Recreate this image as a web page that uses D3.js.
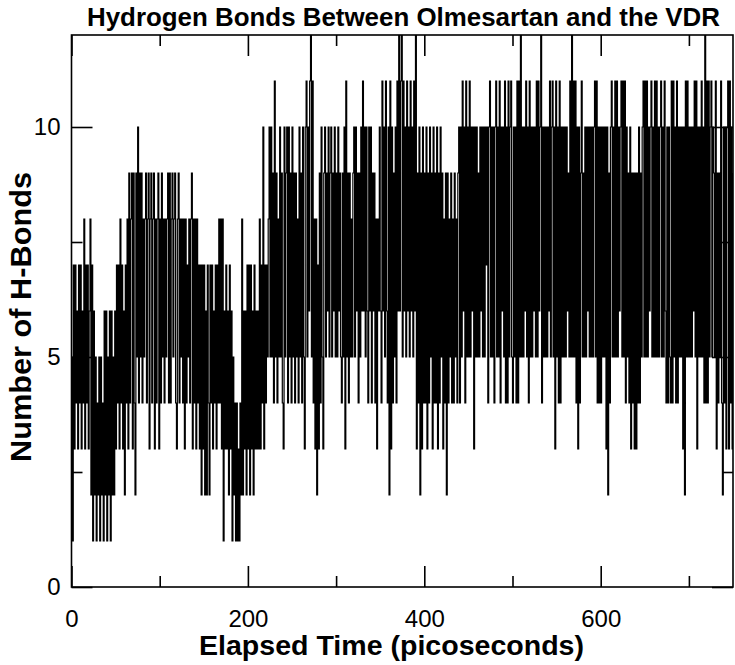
<!DOCTYPE html>
<html><head><meta charset="utf-8">
<script src="https://cdn.jsdelivr.net/npm/d3@7"></script>
<style>body{margin:0;background:#fff}</style>
</head><body>
<svg id="chart" width="735" height="665"></svg>
<script>
// Number of hydrogen bonds, one value per picosecond (t = 0 .. 750 ps)
const hbonds = [
5,1,7,3,7,4,6,3,7,4,7,3,6,4,8,3,7,4,7,3,6,8,2,7,1,
6,2,5,1,4,2,5,1,5,2,4,1,6,2,6,1,5,2,6,1,6,2,5,2,6,
3,7,4,7,3,8,4,7,3,6,2,7,4,8,3,9,4,8,9,3,9,4,2,9,5,
10,4,9,5,9,4,8,5,8,9,4,8,9,3,8,9,4,8,9,3,8,4,8,9,3,
8,4,9,5,8,4,8,5,8,9,4,9,4,8,9,5,8,9,4,3,8,9,4,8,5,
8,4,8,3,8,4,7,5,8,4,8,9,3,8,4,8,3,8,4,7,3,7,2,7,3,
7,2,6,2,7,4,2,7,4,7,3,6,4,7,3,7,4,8,4,8,3,8,1,6,3,
7,3,6,2,7,3,6,1,5,2,4,1,4,1,3,1,4,2,8,2,6,3,6,2,7,
3,7,2,7,3,6,2,7,3,6,3,6,3,8,3,7,4,10,3,7,4,7,5,8,10,
5,10,5,9,4,11,5,9,4,8,5,10,5,9,4,3,10,5,9,10,4,10,5,9,4,
10,5,9,4,9,5,8,4,10,5,9,4,10,5,3,10,11,5,10,6,11,12,5,11,4,
8,3,8,2,7,3,9,4,10,5,3,9,10,5,9,6,10,5,9,10,5,9,6,10,5,
9,5,10,6,9,5,4,9,5,10,3,11,5,9,4,9,5,8,5,9,10,5,10,6,9,
4,9,5,10,6,11,6,10,5,10,6,4,10,6,10,4,9,6,9,4,8,3,8,6,10,
6,4,11,6,10,5,11,6,4,10,2,11,3,10,4,9,5,10,4,11,6,12,6,11,12,
5,11,6,10,5,11,6,10,5,11,6,10,5,11,6,12,3,9,4,10,2,9,3,10,4,
9,4,10,3,9,4,10,5,9,3,10,4,9,4,10,3,9,4,10,5,9,3,8,4,9,
2,9,4,8,5,9,4,8,4,9,5,8,4,9,10,4,10,5,11,6,10,4,11,5,10,
5,11,5,10,6,10,3,10,5,10,5,9,5,10,6,10,5,10,5,10,7,10,4,10,11,
5,10,5,10,4,10,11,5,10,5,11,4,10,6,10,5,11,4,10,4,11,5,10,11,5,
4,10,5,10,4,11,4,11,5,12,5,10,5,10,6,11,5,10,4,11,5,10,5,10,6,
10,5,11,5,11,6,10,12,4,10,5,10,5,10,5,10,6,11,5,10,11,5,10,3,11,
5,10,4,11,4,10,5,10,5,10,5,10,6,9,5,11,5,12,5,11,5,11,4,10,3,
10,4,9,11,5,9,5,10,5,10,6,10,5,10,5,10,5,10,11,5,11,4,10,4,10,
4,10,5,10,5,10,3,10,2,9,4,10,11,5,10,5,11,5,11,5,10,6,10,11,5,
11,5,11,4,10,5,9,4,10,3,9,4,9,3,9,3,9,4,10,4,9,5,10,11,5,
11,5,11,5,10,6,10,11,5,10,5,11,5,11,5,10,5,10,11,5,10,5,11,6,4,
10,4,10,5,4,11,4,11,5,10,4,11,4,10,5,10,5,10,3,10,2,11,5,11,5,
10,5,10,5,10,6,11,5,11,3,10,5,10,5,11,5,10,4,12,4,11,4,11,5,10,
11,5,10,9,5,11,3,9,4,9,5,11,4,2,10,4,10,3,10,11,3,11,4,10,3,9
];
const timeStepPs = 1;
const xDomain = [0, 750];
const yDomain = [0, 12];
const xTicksMajor = [0, 200, 400, 600];
const xTicksMinor = [100, 300, 500, 700];
const yTicksMajor = [0, 5, 10];
const yTicksMinor = [2.5, 7.5];
const titleText = "Hydrogen Bonds Between Olmesartan and the VDR";
const xTitleText = "Elapsed Time (picoseconds)";
const yTitleText = "Number of H-Bonds";

const plot = {left: 71.5, right: 733, top: 35, bottom: 587};
const FONT = "'Liberation Sans', Arial, Helvetica, sans-serif";
const MAJOR = 21, MINOR = 11;

const x = d3.scaleLinear().domain(xDomain).range([plot.left, plot.right]);
const y = d3.scaleLinear().domain(yDomain).range([plot.bottom, plot.top]);
const svg = d3.select("#chart");

svg.append("defs").append("clipPath").attr("id", "clip")
  .append("rect").attr("x", plot.left).attr("y", plot.top)
  .attr("width", plot.right - plot.left).attr("height", plot.bottom - plot.top);

const line = d3.line().curve(d3.curveStepAfter)
  .x((d, i) => x(i * timeStepPs)).y(d => y(d));
svg.append("path").datum(hbonds)
  .attr("d", line).attr("fill", "none").attr("stroke", "#000")
  .attr("stroke-width", 1.2).attr("clip-path", "url(#clip)");

function styleAxis(g) {
  g.select(".domain").remove();
  g.selectAll(".tick line").attr("stroke", "#000").attr("stroke-width", 1.6);
  g.selectAll(".tick text").attr("fill", "#000").style("font-family", FONT).style("font-size", "24px");
}
// bottom
svg.append("g").attr("transform", `translate(0,${plot.bottom})`)
  .call(d3.axisBottom(x).tickValues(xTicksMajor).tickSize(-MAJOR).tickSizeOuter(0).tickPadding(23).tickFormat(d3.format("d")))
  .call(styleAxis);
svg.append("g").attr("transform", `translate(0,${plot.bottom})`)
  .call(d3.axisBottom(x).tickValues(xTicksMinor).tickSize(-MINOR).tickSizeOuter(0).tickFormat(""))
  .call(styleAxis);
// top
svg.append("g").attr("transform", `translate(0,${plot.top})`)
  .call(d3.axisTop(x).tickValues(xTicksMajor).tickSize(-MAJOR).tickSizeOuter(0).tickFormat(""))
  .call(styleAxis);
svg.append("g").attr("transform", `translate(0,${plot.top})`)
  .call(d3.axisTop(x).tickValues(xTicksMinor).tickSize(-MINOR).tickSizeOuter(0).tickFormat(""))
  .call(styleAxis);
// left
svg.append("g").attr("transform", `translate(${plot.left},0)`)
  .call(d3.axisLeft(y).tickValues(yTicksMajor).tickSize(-MAJOR).tickSizeOuter(0).tickPadding(11).tickFormat(d3.format("d")))
  .call(styleAxis);
svg.append("g").attr("transform", `translate(${plot.left},0)`)
  .call(d3.axisLeft(y).tickValues(yTicksMinor).tickSize(-MINOR).tickSizeOuter(0).tickFormat(""))
  .call(styleAxis);
// right
svg.append("g").attr("transform", `translate(${plot.right},0)`)
  .call(d3.axisRight(y).tickValues(yTicksMajor).tickSize(-MAJOR).tickSizeOuter(0).tickFormat(""))
  .call(styleAxis);
svg.append("g").attr("transform", `translate(${plot.right},0)`)
  .call(d3.axisRight(y).tickValues(yTicksMinor).tickSize(-MINOR).tickSizeOuter(0).tickFormat(""))
  .call(styleAxis);

// frame
svg.append("rect").attr("x", plot.left).attr("y", plot.top)
  .attr("width", plot.right - plot.left).attr("height", plot.bottom - plot.top)
  .attr("fill", "none").attr("stroke", "#000").attr("stroke-width", 1.6);

// titles
svg.append("text").attr("x", 87).attr("y", 26)
  .attr("textLength", 633).attr("lengthAdjust", "spacingAndGlyphs")
  .style("font-family", FONT).style("font-weight", "bold").style("font-size", "26px")
  .text(titleText);
svg.append("text").attr("x", 199).attr("y", 655)
  .attr("textLength", 385).attr("lengthAdjust", "spacingAndGlyphs")
  .style("font-family", FONT).style("font-weight", "bold").style("font-size", "28px")
  .text(xTitleText);
svg.append("text").attr("transform", `translate(31,317) rotate(-90)`)
  .attr("text-anchor", "middle")
  .attr("textLength", 290).attr("lengthAdjust", "spacingAndGlyphs")
  .style("font-family", FONT).style("font-weight", "bold").style("font-size", "29px")
  .text(yTitleText);
</script>
</body></html>
